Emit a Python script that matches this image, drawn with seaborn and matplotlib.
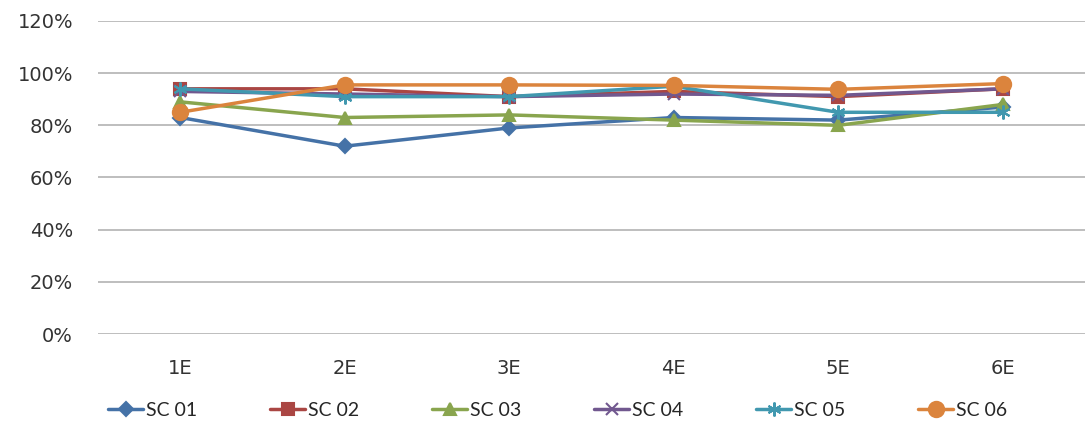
import matplotlib
matplotlib.use("Agg")
import matplotlib.pyplot as plt
import seaborn as sns
import pandas as pd
from matplotlib.ticker import PercentFormatter

categories = ["1E", "2E", "3E", "4E", "5E", "6E"]
series_names = ["SC 01", "SC 02", "SC 03", "SC 04", "SC 05", "SC 06"]
sc01 = [83, 72, 79, 83, 82, 87]
sc02 = [94, 94, 91, 93, 91, 94]
sc03 = [89, 83, 84, 82, 80, 88]
sc04 = [93, 92, 91, 92, 91.5, 94]
sc05 = [94, 91, 91, 95, 85, 85]
sc06 = [85, 95.5, 95.5, 95.3, 93.8, 96]
all_values = [sc01, sc02, sc03, sc04, sc05, sc06]

colors = ["#4572A7", "#AA4643", "#89A54E", "#71588F", "#4198AF", "#DB843D"]
asterisk = (6, 2, 0)
markers = ["D", "s", "^", "x", asterisk, "o"]
msizes = [7, 8, 9, 8, 10, 11]

sns.set_theme(style="white")
plt.rcParams["font.family"] = ["DejaVu Sans"]

fig = plt.figure(figsize=(10.86, 4.33), dpi=100)
ax = fig.add_axes([98/1086, 1 - 334/433, (1085-98)/1086, (334-21)/433])

for name, vals, col, mk, ms in zip(series_names, all_values, colors, markers, msizes):
    d = pd.DataFrame({"cat": categories, "val": [v / 100.0 for v in vals]})
    sns.lineplot(data=d, x="cat", y="val", color=col, marker=mk, markersize=ms,
                 markeredgecolor=col, markeredgewidth=1.5, linewidth=2.5,
                 label=name, ax=ax, sort=False)

ax.set_ylim(0, 1.2)
ax.set_yticks([0, 0.2, 0.4, 0.6, 0.8, 1.0, 1.2])
ax.yaxis.set_major_formatter(PercentFormatter(1.0, decimals=0))
ax.set_xlim(-0.5, 5.5)
ax.grid(axis="y", color="#b3b3b3", linewidth=1.2)
ax.set_axisbelow(True)
for s in ax.spines.values():
    s.set_visible(False)
ax.set_xlabel("")
ax.set_ylabel("")
ax.tick_params(axis="y", labelsize=14, colors="#333333", pad=18, length=0)
ax.tick_params(axis="x", labelsize=14, colors="#333333", pad=18, length=0)

handles, labels = ax.get_legend_handles_labels()
ax.legend_.remove()
fig.legend(handles, labels, loc="center", bbox_to_anchor=(558/1086, 1 - 410/433),
           ncol=6, frameon=False, handlelength=1.8, handletextpad=0.15,
           columnspacing=3.75, prop={"family": ["Lato", "DejaVu Sans"], "size": 14})

fig.savefig("out.png", dpi=100)
